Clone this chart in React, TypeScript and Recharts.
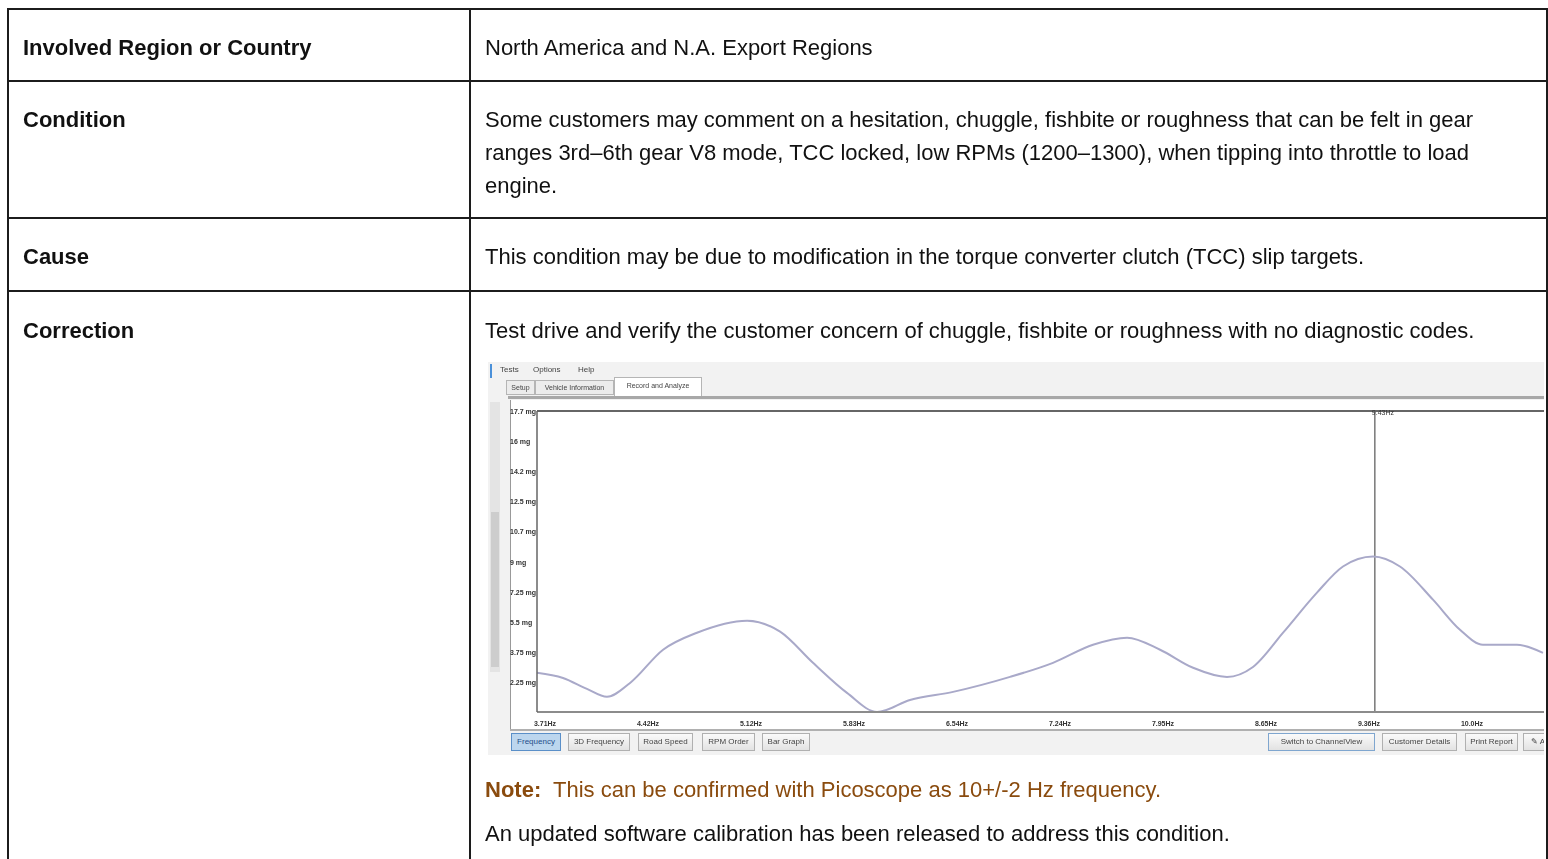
import { LineChart, Line, XAxis, YAxis, ReferenceLine } from 'recharts';

// frequency spectrum
const freqHz = [
   3.655, 3.833, 3.997, 4.134, 4.292, 4.518, 4.75, 5.093, 5.319, 5.544, 5.777,
   5.983, 6.208, 6.503, 6.893, 7.187, 7.461, 7.694, 7.92, 8.146, 8.378, 8.556,
   8.762, 8.994, 9.172, 9.378, 9.562, 9.788, 9.973, 10.13, 10.363, 10.541
];
const amplitudeMg = [
   2.53, 2.23, 1.59, 1.13, 1.94, 3.87, 4.86, 5.56, 4.92, 3.11, 1.36, 0.25,
   0.95, 1.42, 2.29, 3.11, 4.16, 4.57, 3.87, 2.82, 2.29, 2.87, 4.86, 7.19,
   8.71, 9.29, 8.71, 6.78, 5.03, 4.16, 4.16, 3.69
];

const xTicks = [3.71, 4.415, 5.12, 5.825, 6.53, 7.235, 7.94, 8.645, 9.35, 10.055];
const xTickLabels = ['3.71Hz', '4.42Hz', '5.12Hz', '5.83Hz', '6.54Hz', '7.24Hz', '7.95Hz', '8.65Hz', '9.36Hz', '10.0Hz'];
const yTicks = [17.75, 16, 14.25, 12.5, 10.75, 9, 7.25, 5.5, 3.75, 2];
const yTickLabels = ['17.7 mg', '16 mg', '14.2 mg', '12.5 mg', '10.7 mg', '9 mg', '7.25 mg', '5.5 mg', '3.75 mg', '2.25 mg'];
const cursorHz = 9.39;
const cursorLabel = '9.43Hz';

const leftButtons = ['Frequency', '3D Frequency', 'Road Speed', 'RPM Order', 'Bar Graph'];
const rightButtons = ['Switch to ChannelView', 'Customer Details', 'Print Report', '✎ A'];

const data = freqHz.map((hz, i) => ({ hz, mg: amplitudeMg[i] }));

const SHOT_W = 1056;
const tiny: React.CSSProperties = {
   fontFamily: 'Arial, "Liberation Sans", sans-serif',
   fontSize: 8,
   lineHeight: '12px',
   color: '#444'
};

const YTick = (props: any) => {
   const i = yTicks.indexOf(props.payload.value);
   return (
      <text x={22} y={props.y + 3} fontSize={7} fontWeight="bold" fill="#333" fontFamily="Arial">
         {yTickLabels[i]}
      </text>
   );
};

const XTick = (props: any) => {
   const i = xTicks.indexOf(props.payload.value);
   return (
      <text x={props.x} y={props.y + 6} fontSize={7} fontWeight="bold" fill="#333" textAnchor="middle" fontFamily="Arial">
         {xTickLabels[i]}
      </text>
   );
};

const btn = (active: boolean): React.CSSProperties => ({
   position: 'absolute',
   top: 371,
   height: 18,
   padding: '0 4px',
   border: active ? '1px solid #5a8fc8' : '1px solid #b0b0b0',
   background: active ? '#bcd6ee' : 'linear-gradient(#fafafa, #e2e2e2)',
   whiteSpace: 'nowrap',
   boxSizing: 'border-box',
   textAlign: 'center',
   ...tiny,
   lineHeight: '16px',
   color: active ? '#1f4f8a' : '#444'
});

const leftBtnX = [23, 80, 150, 214, 274];
const leftBtnW = [50, 62, 55, 53, 48];
const rightBtnX = [780, 894, 977, 1035];
const rightBtnW = [107, 75, 53, 30];

const tab = (left: number, width: number, active: boolean): React.CSSProperties => ({
   position: 'absolute',
   left,
   top: active ? 15 : 18,
   width,
   height: active ? 19 : 15,
   border: '1px solid #b5b5b5',
   borderBottom: active ? 'none' : '1px solid #b5b5b5',
   boxSizing: 'border-box',
   background: active ? '#fff' : '#ececec',
   textAlign: 'center',
   whiteSpace: 'nowrap',
   ...tiny,
   fontSize: 7,
   lineHeight: active ? '15px' : '13px'
});

const Screenshot = () => (
   <div style={{ position: 'relative', width: SHOT_W, height: 393, overflow: 'hidden', background: '#f2f2f2', margin: '15px 0 0 3px', lineHeight: 'normal' }}>
      {/* menu */}
      <div style={{ position: 'absolute', left: 2, top: 2, width: 2, height: 14, background: '#4a90d9' }} />
      <div style={{ position: 'absolute', left: 12, top: 2, ...tiny }}>Tests</div>
      <div style={{ position: 'absolute', left: 45, top: 2, ...tiny }}>Options</div>
      <div style={{ position: 'absolute', left: 90, top: 2, ...tiny }}>Help</div>
      {/* tabs */}
      <div style={tab(18, 29, false)}>Setup</div>
      <div style={tab(47, 79, false)}>Vehicle Information</div>
      <div style={tab(126, 88, true)}>Record and Analyze</div>
      {/* left strip and scrollbar */}
      <div style={{ position: 'absolute', left: 2, top: 40, width: 10, height: 270, background: '#e4e4e4' }} />
      <div style={{ position: 'absolute', left: 3, top: 150, width: 8, height: 155, background: '#cdcdcd' }} />
      {/* panel */}
      <div style={{ position: 'absolute', left: 22, top: 38, width: SHOT_W - 22, height: 330, background: '#fff', borderLeft: '1.5px solid #999' }} />
      <div style={{ position: 'absolute', left: 20, top: 34, width: SHOT_W - 20, height: 3, background: '#a8a8a8' }} />
      <div style={{ position: 'absolute', left: 22, top: 367, width: SHOT_W - 22, height: 2, background: '#b0b0b0' }} />
      <div style={{ position: 'absolute', left: 0, top: 0 }}>
         <LineChart width={SHOT_W} height={370} data={data} margin={{ top: 49, right: 0, bottom: 0, left: 21 }}>
            <XAxis
               dataKey="hz"
               type="number"
               domain={[3.655, 10.548]}
               allowDataOverflow
               ticks={xTicks}
               tick={<XTick />}
               tickLine={false}
               height={20}
               stroke="#8c8c8c"
               strokeWidth={2}
            />
            <YAxis
               type="number"
               domain={[0.25, 17.75]}
               allowDataOverflow
               ticks={yTicks}
               tick={<YTick />}
               tickLine={false}
               width={28}
               stroke="#666"
               strokeWidth={1.5}
            />
            <ReferenceLine y={17.75} stroke="#666" strokeWidth={2} />
            <ReferenceLine
               x={cursorHz}
               stroke="#777"
               strokeWidth={1.5}
               label={{ value: cursorLabel, position: 'insideTopLeft', fontSize: 7, fill: '#333', dy: -6, dx: -8 }}
            />
            <Line
               type="monotone"
               dataKey="mg"
               stroke="#a9a9c9"
               strokeWidth={2}
               dot={false}
               isAnimationActive={false}
            />
         </LineChart>
      </div>
      {/* buttons */}
      {leftButtons.map((b, i) => (
         <div key={b} style={{ ...btn(i === 0), left: leftBtnX[i], width: leftBtnW[i] }}>{b}</div>
      ))}
      {rightButtons.map((b, i) => (
         <div key={b} style={{ ...btn(false), left: rightBtnX[i], width: rightBtnW[i], border: i === 0 ? '1px solid #7fa6cf' : '1px solid #b0b0b0' }}>{b}</div>
      ))}
   </div>
);

const cell: React.CSSProperties = {
   border: '2px solid #1c1c1c',
   padding: '21px 14px 17px',
   verticalAlign: 'top',
   lineHeight: '33px'
};
const label: React.CSSProperties = { ...cell, fontWeight: 'bold' };

export default function App() {
   return (
      <div style={{ position: 'fixed', left: 7, top: 8, width: 1541, height: 851, overflow: 'hidden' }}>
         <table
            style={{
               borderCollapse: 'collapse',
               tableLayout: 'fixed',
               width: 1539,
               fontFamily: '"Liberation Sans", Arial, sans-serif',
               fontSize: 22,
               color: '#111'
            }}>
            <colgroup>
               <col style={{ width: 462 }} />
               <col style={{ width: 1077 }} />
            </colgroup>
            <tbody>
               <tr>
                  <td style={{ ...label, paddingBottom: 16 }}>Involved Region or Country</td>
                  <td style={{ ...cell, paddingBottom: 16 }}>North America and N.A. Export Regions</td>
               </tr>
               <tr>
                  <td style={{ ...label, paddingBottom: 15 }}>Condition</td>
                  <td style={{ ...cell, paddingBottom: 15 }}>
                     Some customers may comment on a hesitation, chuggle, fishbite or roughness that can be felt in gear
                     ranges 3rd–6th gear V8 mode, TCC locked, low RPMs (1200–1300), when tipping into throttle to load
                     engine.
                  </td>
               </tr>
               <tr>
                  <td style={label}>Cause</td>
                  <td style={cell}>
                     This condition may be due to modification in the torque converter clutch (TCC) slip targets.
                  </td>
               </tr>
               <tr>
                  <td style={{ ...label, paddingTop: 22 }}>Correction</td>
                  <td style={{ ...cell, paddingTop: 22 }}>
                     <div>Test drive and verify the customer concern of chuggle, fishbite or roughness with no diagnostic codes.</div>
                     <Screenshot />
                     <div style={{ marginTop: 18, color: '#8a4b0e' }}>
                        <b>Note:</b>&nbsp; This can be confirmed with Picoscope as 10+/-2 Hz frequency.
                     </div>
                     <div style={{ marginTop: 11 }}>An updated software calibration has been released to address this condition.</div>
                  </td>
               </tr>
            </tbody>
         </table>
      </div>
   );
}
